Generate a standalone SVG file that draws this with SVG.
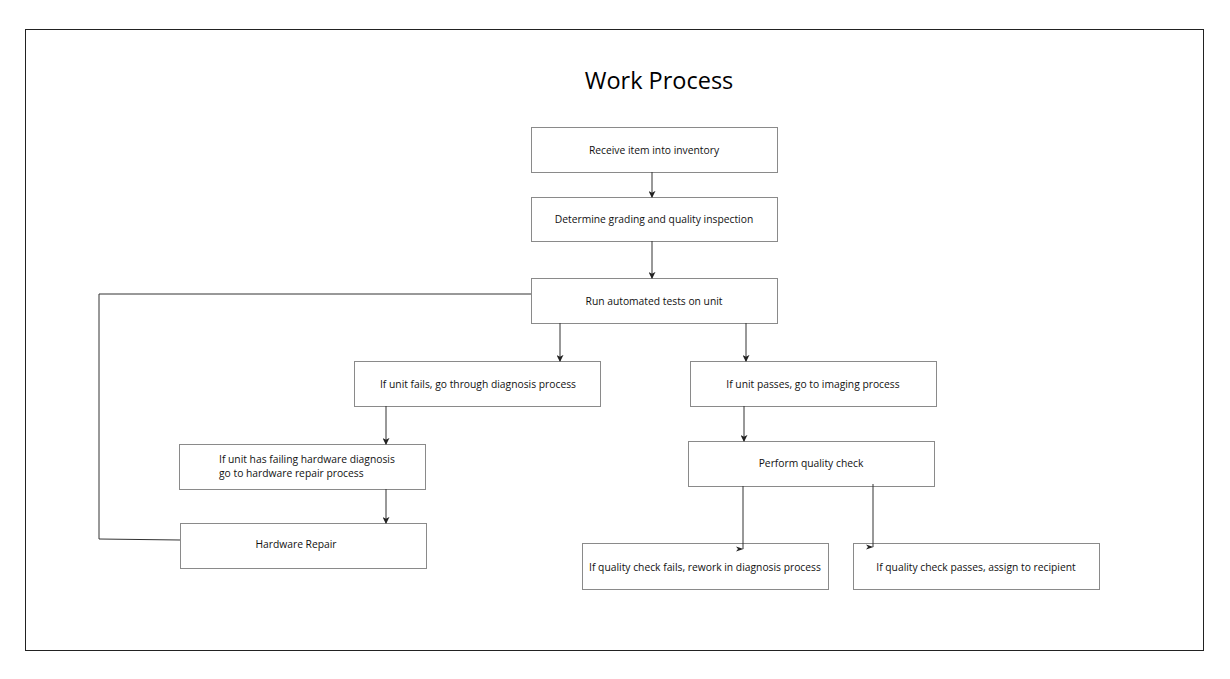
<svg xmlns="http://www.w3.org/2000/svg" width="1230" height="679" viewBox="0 0 1230 679">
<defs>
<style>
.box{fill:#fff;stroke:#8a8a8a;stroke-width:1}
.t{font-family:"Open Sans","Noto Sans",sans-serif;font-size:10.3px;fill:#111}
.c{text-anchor:middle}
.ln{fill:none;stroke:#333;stroke-width:1}
.hd{fill:#222}
.title{font-family:"Open Sans","Noto Sans",sans-serif;font-size:23.5px;fill:#000;text-anchor:middle}
</style>
<marker id="ah" viewBox="0 0 8 8" refX="7" refY="4" markerWidth="7" markerHeight="7" markerUnits="userSpaceOnUse" orient="auto">
<path d="M0,0 L8,4 L0,8 L2,4 Z" fill="#222"/>
</marker>
</defs>
<rect x="0" y="0" width="1230" height="679" fill="#fff"/>
<rect x="25.5" y="29.5" width="1178" height="621" fill="none" stroke="#222" stroke-width="1"/>
<text class="title" x="659" y="89">Work Process</text>

<g id="n1"><rect class="box" x="531.5" y="127.5" width="246" height="45"/><text class="t c" x="654" y="154">Receive item into inventory</text></g>
<g id="n2"><rect class="box" x="531.5" y="197.5" width="246" height="44"/><text class="t c" x="654" y="223">Determine grading and quality inspection</text></g>
<g id="n3"><rect class="box" x="531.5" y="278.5" width="246" height="45"/><text class="t c" x="654" y="305">Run automated tests on unit</text></g>
<g id="n4"><rect class="box" x="354.5" y="361.5" width="246" height="45"/><text class="t c" x="478" y="388">If unit fails, go through diagnosis process</text></g>
<g id="n5"><rect class="box" x="690.5" y="361.5" width="246" height="45"/><text class="t c" x="813" y="388">If unit passes, go to imaging process</text></g>
<g id="n6"><rect class="box" x="179.5" y="444.5" width="246" height="45"/><text class="t" x="219" y="463">If unit has failing hardware diagnosis</text><text class="t" x="219" y="477">go to hardware repair process</text></g>
<g id="n7"><rect class="box" x="180.5" y="523.5" width="246" height="45"/><text class="t c" x="296" y="548">Hardware Repair</text></g>
<g id="n8"><rect class="box" x="688.5" y="441.5" width="246" height="45"/><text class="t c" x="811" y="467">Perform quality check</text></g>
<g id="n9"><rect class="box" x="582.5" y="543.5" width="246" height="46"/><text class="t c" x="705" y="571">If quality check fails, rework in diagnosis process</text></g>
<g id="n10"><rect class="box" x="853.5" y="543.5" width="246" height="46"/><text class="t c" x="976" y="571">If quality check passes, assign to recipient</text></g>

<g id="connectors">
<line class="ln" x1="652" y1="172" x2="652" y2="197" marker-end="url(#ah)"/>
<line class="ln" x1="652" y1="241" x2="652" y2="278" marker-end="url(#ah)"/>
<line class="ln" x1="560" y1="323" x2="560" y2="361" marker-end="url(#ah)"/>
<line class="ln" x1="746" y1="323" x2="746" y2="361" marker-end="url(#ah)"/>
<line class="ln" x1="386" y1="406" x2="386" y2="444" marker-end="url(#ah)"/>
<line class="ln" x1="386" y1="489" x2="386" y2="523" marker-end="url(#ah)"/>
<line class="ln" x1="744" y1="406" x2="744" y2="441" marker-end="url(#ah)"/>
<polyline class="ln" points="531,294 99,294 99,539 180,540"/>
<polyline class="ln" points="743,486 743,549"/>
<path class="hd" d="M736,546.5 L743.5,549 L736,551.5 L738,549 Z"/>
<polyline class="ln" points="873,484 873,547"/>
<path class="hd" d="M866,544.5 L873.5,547 L866,549.5 L868,547 Z"/>
</g>
</svg>
